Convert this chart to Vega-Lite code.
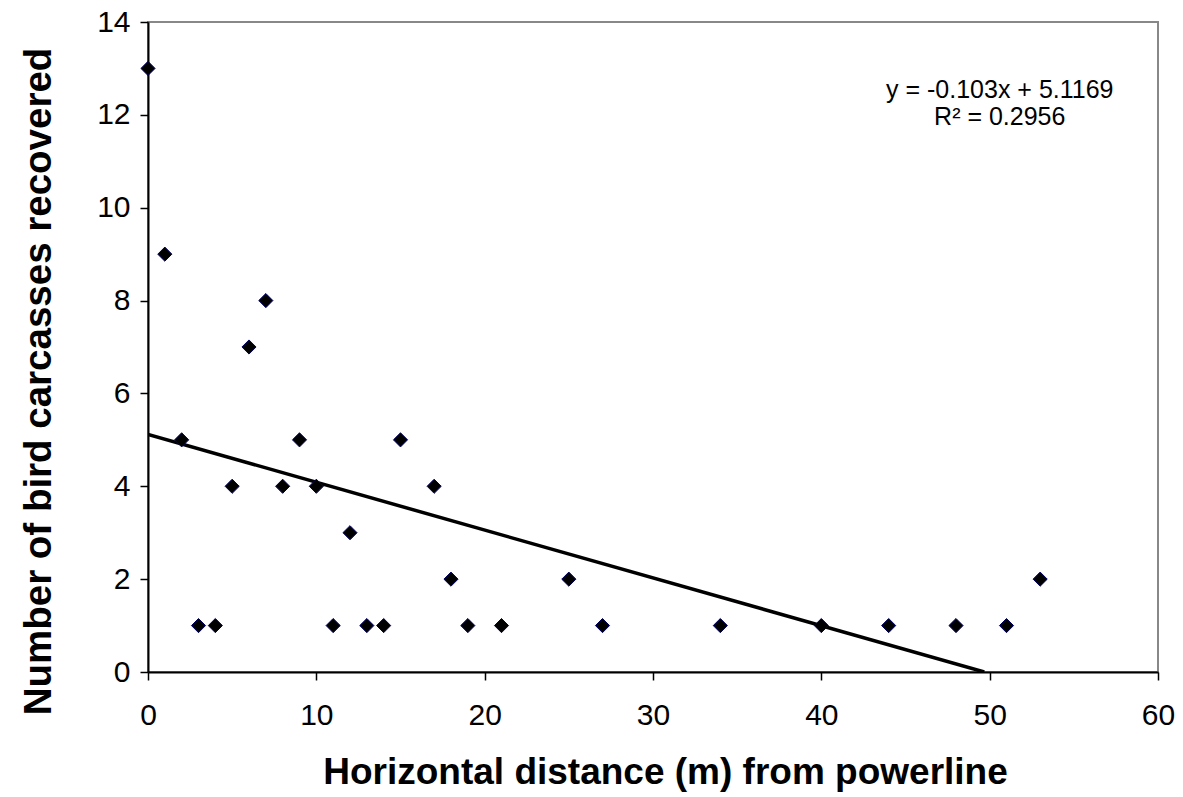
{
  "$schema": "https://vega.github.io/schema/vega-lite/v6.json",
  "width": 1010,
  "height": 650,
  "autosize": "none",
  "padding": {"left": 148, "top": 22, "right": 25, "bottom": 125},
  "background": "white",
  "config": {
    "view": {"stroke": "#888888", "strokeWidth": 2},
    "font": "Liberation Sans"
  },
  "datasets": {
    "pts": [
      {"d": 0, "n": 13}, {"d": 1, "n": 9}, {"d": 2, "n": 5}, {"d": 3, "n": 1},
      {"d": 4, "n": 1}, {"d": 5, "n": 4}, {"d": 6, "n": 7}, {"d": 7, "n": 8},
      {"d": 8, "n": 4}, {"d": 9, "n": 5}, {"d": 10, "n": 4}, {"d": 11, "n": 1},
      {"d": 12, "n": 3}, {"d": 13, "n": 1}, {"d": 14, "n": 1}, {"d": 15, "n": 5},
      {"d": 17, "n": 4}, {"d": 18, "n": 2}, {"d": 19, "n": 1}, {"d": 21, "n": 1},
      {"d": 25, "n": 2}, {"d": 27, "n": 1}, {"d": 34, "n": 1}, {"d": 40, "n": 1},
      {"d": 44, "n": 1}, {"d": 48, "n": 1}, {"d": 51, "n": 1}, {"d": 53, "n": 2}
    ],
    "trend": [{"d": 0, "n": 5.1169}, {"d": 49.68, "n": 0}],
    "eq": [
      {"d": 50.6, "n": 12.54, "t": "y = -0.103x + 5.1169"},
      {"d": 50.6, "n": 11.96, "t": "R² = 0.2956"}
    ]
  },
  "encoding": {
    "x": {
      "field": "d", "type": "quantitative",
      "scale": {"domain": [0, 60], "nice": false, "zero": true},
      "axis": {
        "title": "Horizontal distance (m) from powerline",
        "values": [0, 10, 20, 30, 40, 50, 60],
        "grid": false, "domainColor": "#000000", "domainWidth": 2,
        "tickColor": "#000000", "tickWidth": 1.5, "tickSize": 8,
        "labelFontSize": 30, "labelColor": "#000000", "labelPadding": 20,
        "labelFont": "Liberation Sans", "labelFlush": false, "labelOverlap": false,
        "titleFontSize": 37, "titleFontWeight": "bold", "titleColor": "#000000",
        "titleFont": "Liberation Sans", "titlePadding": 24, "titleX": 517
      }
    },
    "y": {
      "field": "n", "type": "quantitative",
      "scale": {"domain": [0, 14], "nice": false},
      "axis": {
        "title": "Number of bird carcasses recovered",
        "values": [0, 2, 4, 6, 8, 10, 12, 14],
        "grid": false, "domainColor": "#000000", "domainWidth": 2,
        "tickColor": "#000000", "tickWidth": 1.5, "tickSize": 8,
        "labelFontSize": 30, "labelColor": "#000000", "labelPadding": 10,
        "labelFont": "Liberation Sans", "labelFlush": false, "labelOverlap": false,
        "titleFontSize": 38.5, "titleFontWeight": "bold", "titleColor": "#000000",
        "titleFont": "Liberation Sans", "titlePadding": 38, "titleY": 359
      }
    }
  },
  "layer": [
    {
      "data": {"name": "trend"},
      "mark": {"type": "line", "color": "#000000", "strokeWidth": 3.5, "clip": true}
    },
    {
      "data": {"name": "pts"},
      "mark": {"type": "point", "shape": "diamond", "filled": true, "size": 200,
               "fill": "#000000", "stroke": "#000066", "strokeWidth": 1, "opacity": 1}
    },
    {
      "data": {"name": "eq"},
      "mark": {"type": "text", "fontSize": 25, "color": "#000000", "align": "center",
               "baseline": "middle", "font": "Liberation Sans"},
      "encoding": {"text": {"field": "t"}}
    }
  ]
}
